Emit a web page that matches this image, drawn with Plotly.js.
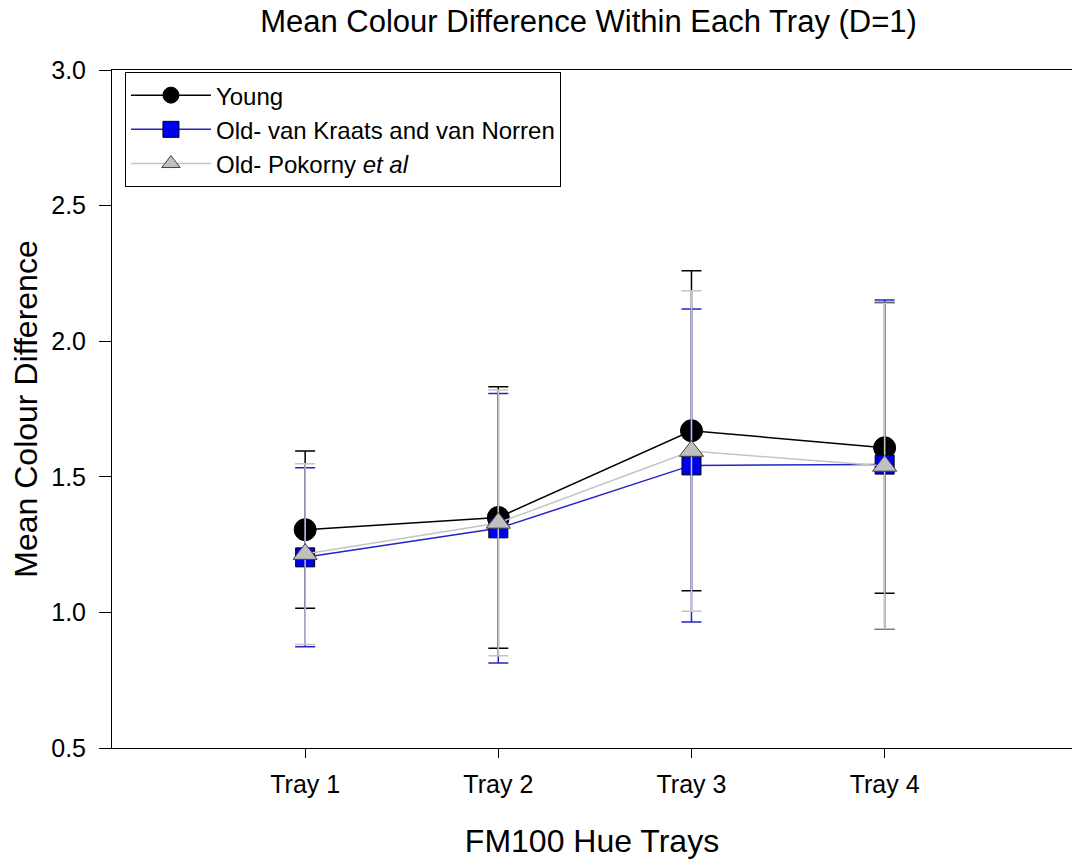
<!DOCTYPE html>
<html>
<head>
<meta charset="utf-8">
<script src="https://cdn.plot.ly/plotly-3.0.1.min.js"></script>
<style>html,body{margin:0;padding:0;background:#fff;}#chart{width:1072px;height:859px;}</style>
</head>
<body>
<div id="chart"></div>
<script>
const trays = ['Tray 1', 'Tray 2', 'Tray 3', 'Tray 4'];
const trayPos = [1, 2, 3, 4];

const youngMean = [1.305, 1.350, 1.670, 1.607];
const youngErr = [0.290, 0.482, 0.590, 0.536];

const kraatsMean = [1.203, 1.310, 1.542, 1.545];
const kraatsErr = [0.330, 0.497, 0.577, 0.607];

const pokornyMean = [1.215, 1.330, 1.595, 1.540];
const pokornyErr = [0.333, 0.490, 0.591, 0.600];

const FONT = 'Liberation Sans, Arial, sans-serif';

const traces = [
  {
    x: trayPos, y: youngMean, name: 'Young', type: 'scatter', mode: 'lines+markers',
    line: {color: '#000000', width: 1.5},
    marker: {symbol: 'circle', size: 22, color: '#000000', line: {color: '#000000', width: 1}},
    error_y: {type: 'data', array: youngErr, visible: true, color: '#000000', thickness: 1.5, width: 10}
  },
  {
    x: trayPos, y: kraatsMean, name: 'Old- van Kraats and van Norren', type: 'scatter', mode: 'lines+markers',
    line: {color: '#2424c8', width: 1.5},
    marker: {symbol: 'square', size: 19, color: '#0000f0', line: {color: '#000000', width: 1}},
    error_y: {type: 'data', array: kraatsErr, visible: true, color: '#2424c8', thickness: 1.5, width: 10}
  },
  {
    x: trayPos, y: pokornyMean, name: 'Old- Pokorny <i>et al</i>', type: 'scatter', mode: 'lines+markers',
    line: {color: '#c4c4c4', width: 1.5},
    marker: {symbol: 'triangle-up', size: 21, color: '#c0c0c0', line: {color: '#404040', width: 1}},
    error_y: {type: 'data', array: pokornyErr, visible: true, color: '#c4c4c4', thickness: 1.5, width: 10}
  }
];

const layout = {
  width: 1072, height: 859,
  margin: {l: 112, r: 0, t: 70, b: 111},
  paper_bgcolor: '#ffffff', plot_bgcolor: '#ffffff',
  font: {family: FONT, color: '#000000'},
  title: {text: 'Mean Colour Difference Within Each Tray (D=1)', font: {family: FONT, size: 31, color: '#000000'}, x: 0.549, xanchor: 'center', y: 0.975, yanchor: 'middle'},
  showlegend: true,
  legend: {
    x: 0.0135, y: 0.997, xanchor: 'left', yanchor: 'top',
    bordercolor: '#000000', borderwidth: 1, bgcolor: '#ffffff',
    font: {family: FONT, size: 24, color: '#000000'},
    itemwidth: 80,
    tracegroupgap: 0
  },
  xaxis: {
    range: [0, 4.97], tickvals: trayPos, ticktext: trays,
    showline: true, linecolor: '#000000', linewidth: 1, mirror: true,
    ticks: 'outside', ticklen: 9, tickcolor: '#000000', tickwidth: 1,
    ticklabelstandoff: 5,
    showgrid: false, zeroline: false,
    tickfont: {family: FONT, size: 25, color: '#000000'},
    title: {text: 'FM100 Hue Trays', font: {family: FONT, size: 32, color: '#000000'}, standoff: 33}
  },
  yaxis: {
    range: [0.5, 3.0], dtick: 0.5, tick0: 0.5, tickformat: '.1f',
    showline: true, linecolor: '#000000', linewidth: 1,
    ticks: 'outside', ticklen: 12, tickcolor: '#000000', tickwidth: 1,
    ticklabelstandoff: 8,
    showgrid: false, zeroline: false,
    tickfont: {family: FONT, size: 25, color: '#000000'},
    title: {text: 'Mean Colour Difference', font: {family: FONT, size: 32, color: '#000000'}, standoff: 4}
  }
};

Plotly.newPlot('chart', traces, layout, {displayModeBar: false, staticPlot: true});
</script>
</body>
</html>
